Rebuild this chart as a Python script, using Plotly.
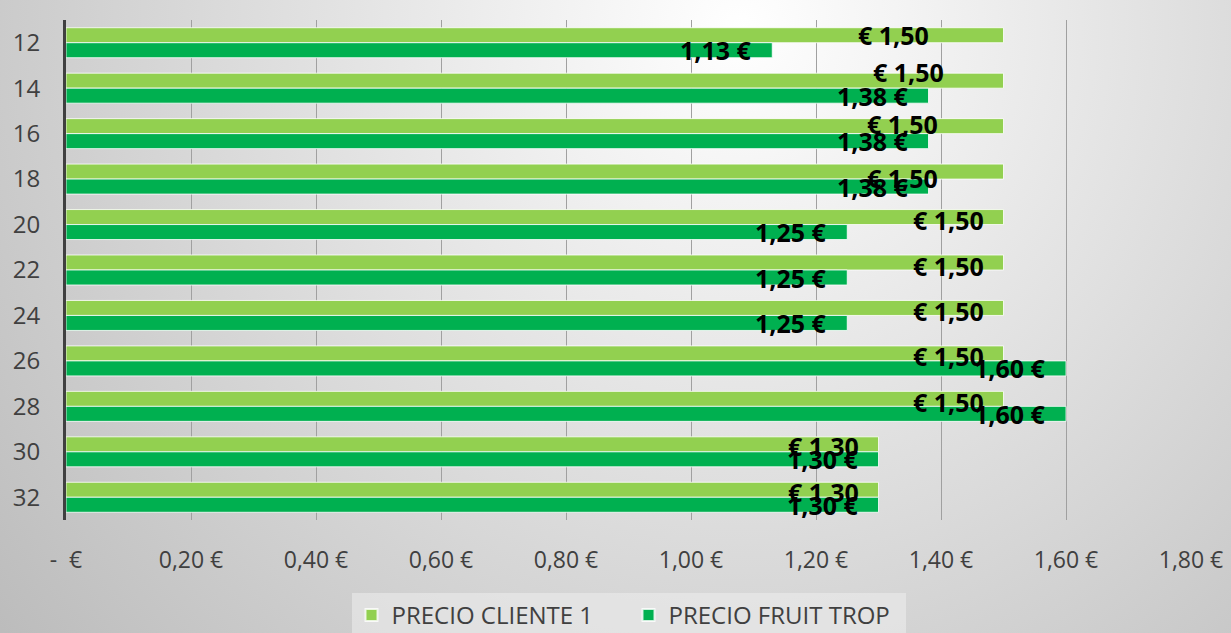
import urllib.parse
import plotly.graph_objects as go

# ---- data ----
categories = ["12", "14", "16", "18", "20", "22", "24", "26", "28", "30", "32"]
precio_cliente_1 = [1.50, 1.50, 1.50, 1.50, 1.50, 1.50, 1.50, 1.50, 1.50, 1.30, 1.30]
precio_fruit_trop = [1.13, 1.38, 1.38, 1.38, 1.25, 1.25, 1.25, 1.60, 1.60, 1.30, 1.30]
x_tickvals = [0, 0.2, 0.4, 0.6, 0.8, 1.0, 1.2, 1.4, 1.6, 1.8]
x_ticktext = ["-\u00a0\u00a0€", "0,20 €", "0,40 €", "0,60 €", "0,80 €", "1,00 €",
              "1,20 €", "1,40 €", "1,60 €", "1,80 €"]

# ---- label nudges (pixels), style only ----
light_dx = [-55, -40, -46, -46, 0, 0, 0, 0, 0, 0, 0]
light_dy = [0, -9, -2, 6, 3, 3, 3, 3, 3, 2, 2]

W, H = 1231, 633
ML, MR, MT, MB = 66, 40, 20, 113
PW, PH = W - ML - MR, H - MT - MB

LIGHT = "#92D050"
DARK = "#00B050"

fig = go.Figure()
fig.add_trace(go.Bar(
    y=categories, x=precio_cliente_1, name="PRECIO CLIENTE 1", orientation="h",
    marker=dict(color=LIGHT, line=dict(color="rgba(255,255,255,0.8)", width=1)),
))
fig.add_trace(go.Bar(
    y=categories, x=precio_fruit_trop, name="PRECIO FRUIT TROP", orientation="h",
    marker=dict(color=DARK, line=dict(color="rgba(255,255,255,0.8)", width=1)),
))

lab_font = dict(family="Open Sans", size=25, color="#000000")
annotations = []
for i, c in enumerate(categories):
    v1 = precio_cliente_1[i]
    annotations.append(dict(
        x=v1, y=i, xref="x", yref="y", showarrow=False,
        text="<b>€ " + f"{v1:.2f}".replace(".", ",") + "</b>",
        xanchor="right", yanchor="middle",
        xshift=-18 + light_dx[i], yshift=7.5 - light_dy[i], font=lab_font,
    ))
    v2 = precio_fruit_trop[i]
    annotations.append(dict(
        x=v2, y=i, xref="x", yref="y", showarrow=False,
        text="<b>" + f"{v2:.2f}".replace(".", ",") + " €</b>",
        xanchor="right", yanchor="middle",
        xshift=-18, yshift=-7.5, font=lab_font,
    ))

svg = ("<svg xmlns='http://www.w3.org/2000/svg' width='1231' height='633'>"
       "<defs><radialGradient id='g' gradientUnits='userSpaceOnUse' cx='740' cy='30' r='952'>"
       "<stop offset='0' stop-color='#ffffff'/><stop offset='1' stop-color='#bcbcbc'/>"
       "</radialGradient></defs><rect width='1231' height='633' fill='url(#g)'/></svg>")
bg_src = "data:image/svg+xml;charset=utf-8," + urllib.parse.quote(svg)

fig.update_layout(
    width=W, height=H,
    margin=dict(l=ML, r=MR, t=MT, b=MB, pad=0, autoexpand=False),
    paper_bgcolor="rgba(0,0,0,0)", plot_bgcolor="rgba(0,0,0,0)",
    barmode="group", bargap=0.34, bargroupgap=0,
    font=dict(family="Open Sans", color="#404040"),
    showlegend=True,
    legend=dict(orientation="h", x=0.5, xanchor="center", y=-73 / PH, yanchor="top",
                bgcolor="rgba(238,238,238,0.55)", font=dict(family="Open Sans", size=24, color="#404040"),
                traceorder="normal", itemsizing="constant",
                entrywidth=232, entrywidthmode="pixels"),
    annotations=annotations,
    images=[dict(source=bg_src, xref="paper", yref="paper",
                 x=-ML / PW, y=1 + MT / PH, sizex=W / PW, sizey=H / PH,
                 xanchor="left", yanchor="top", sizing="stretch", layer="below")],
)
fig.update_xaxes(range=[0, 1.8], tickvals=x_tickvals, ticktext=x_ticktext, automargin=False,
                 showgrid=True, gridcolor="#a0a0a0", gridwidth=1.3, zeroline=False,
                 showline=False, ticks="", ticklabelstandoff=24,
                 tickfont=dict(family="Open Sans", size=23, color="#404040"))
fig.update_yaxes(type="category", range=[len(categories) - 0.5, -0.5], automargin=False,
                 showgrid=False,
                 showline=True, linecolor="#404040", linewidth=3, ticks="",
                 ticklabelstandoff=18,
                 tickfont=dict(family="Open Sans", size=24, color="#404040"))

fig.write_html("out.html", config={"displayModeBar": False},
               post_script="document.body.style.margin='0';document.body.style.overflow='hidden';")
